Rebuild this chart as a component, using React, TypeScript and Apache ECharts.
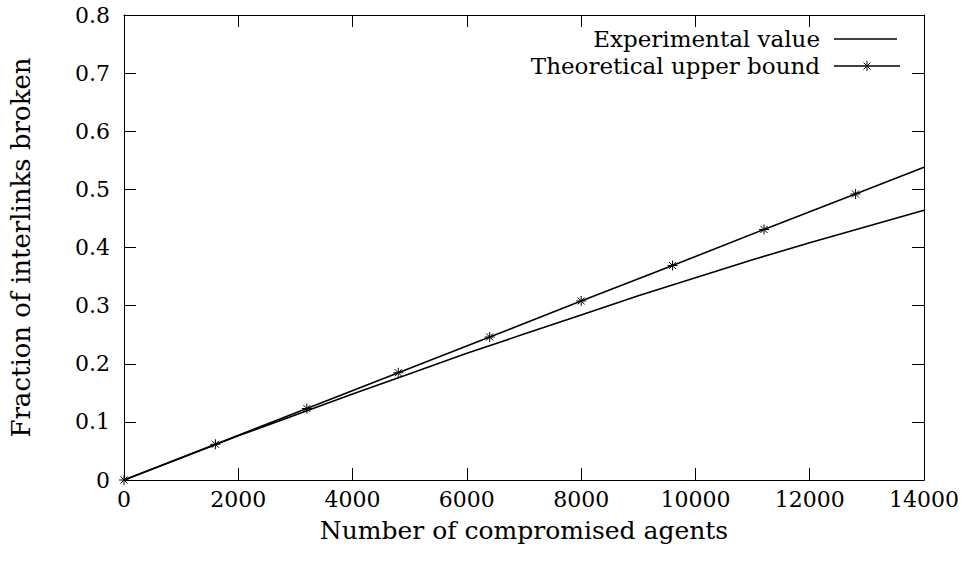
import React, { useEffect, useRef } from "react";
import * as echarts from "echarts";

const expX = [0, 1000, 2000, 3000, 4000, 5000, 6000, 7000, 8000, 9000, 10000, 11000, 12000, 13000, 14000];
const expY = [0, 0.038, 0.076, 0.112, 0.148, 0.183, 0.218, 0.251, 0.284, 0.317, 0.348, 0.379, 0.408, 0.436, 0.464];
const theoX = [0, 1600, 3200, 4800, 6400, 8000, 9600, 11200, 12800, 14000];
const theoY = [0, 0.0615, 0.123, 0.1845, 0.246, 0.308, 0.369, 0.431, 0.492, 0.538];
const theoMarked = [true, true, true, true, true, true, true, true, true, false];
const seriesNames = ["Experimental value", "Theoretical upper bound"];
const xLabel = "Number of compromised agents";
const yLabel = "Fraction of interlinks broken";

const FONT = "DejaVu Serif";
const STAR = "path://M5 0L5 10M0 5L10 5M1.5 1.5L8.5 8.5M8.5 1.5L1.5 8.5";

function starGraphic(cx: number, cy: number, r: number) {
  const d = r * 0.7;
  const s = { stroke: "#000", lineWidth: 1 };
  return [
    { type: "line", shape: { x1: cx, y1: cy - r, x2: cx, y2: cy + r }, style: s },
    { type: "line", shape: { x1: cx - d, y1: cy - d, x2: cx + d, y2: cy + d }, style: s },
    { type: "line", shape: { x1: cx + d, y1: cy - d, x2: cx - d, y2: cy + d }, style: s },
  ];
}

export default function App() {
  const ref = useRef<HTMLDivElement>(null);
  useEffect(() => {
    if (!ref.current) return;
    const chart = echarts.init(ref.current, null, { renderer: "svg" });
    const axisLine = { show: true, onZero: false, lineStyle: { color: "#000", width: 1 } };
    const tick = { show: true, inside: true, length: 12, lineStyle: { color: "#000", width: 1 } };
    const legendTextStyle = {
      fill: "#000",
      fontFamily: FONT,
      fontSize: 23,
      align: "right",
      verticalAlign: "middle",
    };
    const row1 = 39;
    const row2 = 66;
    chart.setOption({
      animation: false,
      backgroundColor: "#fff",
      textStyle: { fontFamily: FONT, color: "#000" },
      grid: { left: 112, right: 43, top: 15, bottom: 83, containLabel: false },
      graphic: [
        { type: "text", x: 820, y: row1, style: { ...legendTextStyle, text: seriesNames[0] } },
        { type: "line", shape: { x1: 834, y1: row1, x2: 897, y2: row1 }, style: { stroke: "#000", lineWidth: 1.4 } },
        { type: "text", x: 820, y: row2, style: { ...legendTextStyle, text: seriesNames[1] } },
        { type: "line", shape: { x1: 834, y1: row2, x2: 900, y2: row2 }, style: { stroke: "#000", lineWidth: 1.4 } },
        ...starGraphic(867, row2, 5),
      ],
      xAxis: [
        {
          type: "value",
          min: 0,
          max: 14000,
          interval: 2000,
          position: "bottom",
          name: xLabel,
          nameLocation: "middle",
          nameGap: 38,
          nameTextStyle: { fontFamily: FONT, fontSize: 25, color: "#000" },
          axisLine,
          axisTick: tick,
          splitLine: { show: false },
          axisLabel: { fontFamily: FONT, fontSize: 22, color: "#000", margin: 8, formatter: (v: number) => String(v) },
        },
        {
          type: "value",
          min: 0,
          max: 14000,
          interval: 2000,
          position: "top",
          axisLine,
          axisTick: tick,
          splitLine: { show: false },
          axisLabel: { show: false },
        },
      ],
      yAxis: [
        {
          type: "value",
          min: 0,
          max: 0.8,
          interval: 0.1,
          position: "left",
          name: yLabel,
          nameLocation: "middle",
          nameGap: 90,
          nameTextStyle: { fontFamily: FONT, fontSize: 26, color: "#000" },
          axisLine,
          axisTick: tick,
          splitLine: { show: false },
          axisLabel: {
            fontFamily: FONT,
            fontSize: 22,
            color: "#000",
            margin: 14,
            formatter: (v: number) => String(Math.round(v * 10) / 10),
          },
        },
        {
          type: "value",
          min: 0,
          max: 0.8,
          interval: 0.1,
          position: "right",
          axisLine,
          axisTick: tick,
          splitLine: { show: false },
          axisLabel: { show: false },
        },
      ],
      series: [
        {
          name: seriesNames[0],
          type: "line",
          xAxisIndex: 0,
          yAxisIndex: 0,
          symbol: "none",
          data: expX.map((x, i) => [x, expY[i]]),
          lineStyle: { color: "#000", width: 1.6 },
          itemStyle: { color: "#000" },
        },
        {
          name: seriesNames[1],
          type: "line",
          xAxisIndex: 0,
          yAxisIndex: 0,
          symbol: STAR,
          symbolSize: 10,
          showAllSymbol: true,
          data: theoX.map((x, i) =>
            theoMarked[i] ? { value: [x, theoY[i]] } : { value: [x, theoY[i]], symbol: "none" }
          ),
          lineStyle: { color: "#000", width: 1.6 },
          itemStyle: { color: "none", borderColor: "#000", borderWidth: 1 },
        },
      ],
    });
    return () => chart.dispose();
  }, []);
  return <div ref={ref} style={{ position: "absolute", left: 0, top: 0, width: 967, height: 563 }} />;
}
